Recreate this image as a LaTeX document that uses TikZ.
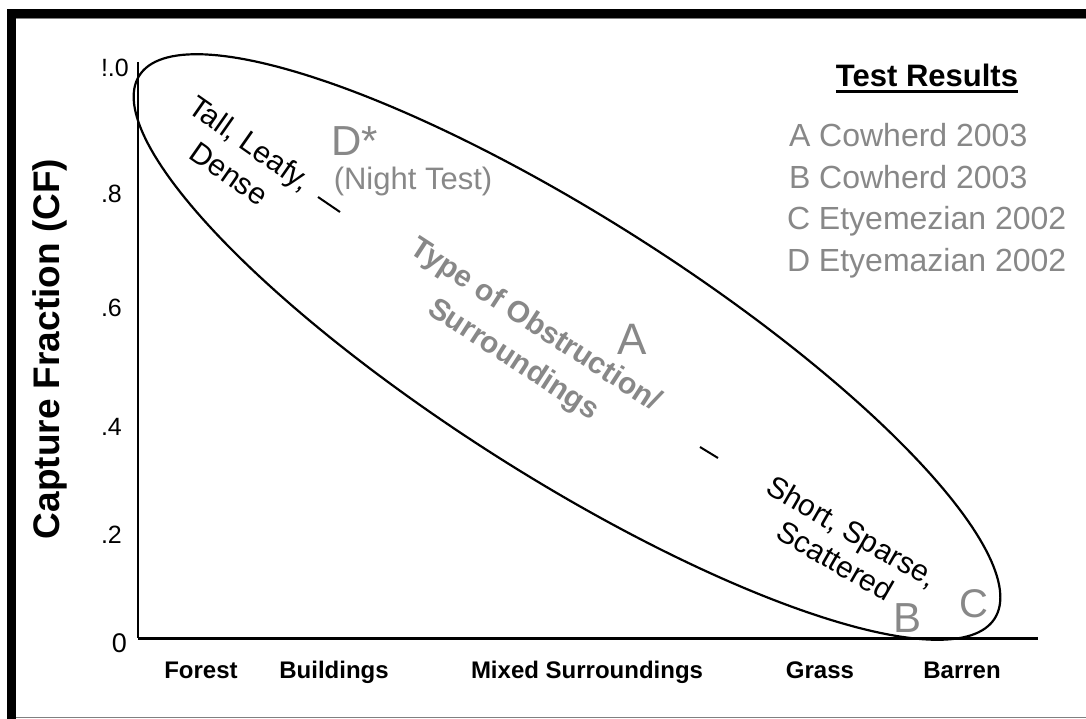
\documentclass[tikz,border=0pt]{standalone}
\usepackage{fontspec}
\setmainfont{Liberation Sans}
\usetikzlibrary{calc}
\definecolor{txtgray}{RGB}{136,136,136}
\definecolor{framegray}{RGB}{128,128,128}
\newcommand{\myfs}[1]{\fontsize{#1}{#1}\selectfont}
\newcommand{\myfsl}[2]{\fontsize{#1}{#2}\selectfont}
\begin{document}
\begin{tikzpicture}[x=1pt,y=-1pt,
  every node/.style={inner sep=0pt, outer sep=0pt},
  tick/.style={font=\myfs{25}, anchor=west},
  cat/.style={font=\bfseries\myfs{24}, anchor=base},
  legend/.style={font=\myfs{32}, text=txtgray, anchor=base west},
  bigletter/.style={text=txtgray},
  axisline/.style={line width=2.7pt},
  dashmark/.style={line width=2pt},
]
\useasboundingbox (0,0) rectangle (1086,719);
\fill[white] (0,0) rectangle (1086,719);
% frame
\fill[black] (7,9) rectangle (1086,18);
\fill[black] (7,9) rectangle (16,719);
\draw[framegray, line width=0.8pt] (16,18.6) -- (1086,18.6);
\draw[framegray, line width=1.4pt] (16,717.6) -- (1086,717.6);

% axes
\coordinate (ytop) at (138,62);
\coordinate (origin) at (138,638);
\coordinate (xend) at (1038,638);
\draw[axisline] (ytop) -- (origin);
\draw[line width=3pt] (origin) -- (xend);

% tick labels
\node[tick] (t10) at (101,68) {!.0};
\node[tick] (t8) at (101,194) {.8};
\node[tick] (t6) at (101,308) {.6};
\node[tick] (t4) at (101,427) {.4};
\node[tick] (t2) at (101,535) {.2};
\node[font=\myfs{27}] (t0) at (119.5,643) {0};

% y label
\node[font=\bfseries\myfs{37}, rotate=90] (ylab) at (50,349) {Capture Fraction (CF)};

% categories
\node[cat] (forest) at (201,678) {Forest};
\node[cat] (buildings) at (334,678) {Buildings};
\node[cat] (mixed) at (587,678) {Mixed Surroundings};
\node[cat] (grass) at (820,678) {Grass};
\node[cat] (barren) at (962,678) {Barren};

% ellipse
\draw[line width=2.2pt] plot[domain=0:360, samples=241]
  ({567 + 506.6*cos(\x)*cos(32.4) - 130*sin(\x)*sin(32.4)},
   {347 + 506.6*cos(\x)*sin(32.4) + 130*sin(\x)*cos(32.4)}) -- cycle;

% diagonal texts
\node[font=\myfsl{30}{37}, align=center, rotate=-35] (tall) at (240,158) {Tall, Leafy,\\Dense};
\node[font=\bfseries\myfsl{30}{41}, text=txtgray, align=center, rotate=-33] (type) at (524,343) {Type of Obstruction/\\Surroundings};
\node[font=\myfsl{30}{34}, align=center, rotate=-30] (short) at (844,546) {Short, Sparse,\\Scattered};

% dash marks
\coordinate (d1a) at (318,197);
\coordinate (d1b) at (340,212);
\coordinate (d2a) at (700,447);
\coordinate (d2b) at (718,458);
\draw[dashmark] (d1a) -- (d1b);
\draw[dashmark] (d2a) -- (d2b);

% gray letters
\node[bigletter, font=\myfs{42}] (dstar) at (355,141) {D*};
\node[font=\myfs{31}, text=txtgray] (night) at (413,181) {(Night Test)};
\node[bigletter, font=\myfs{44}] (la) at (632,339) {A};
\node[bigletter, font=\myfs{42}] (lb) at (907,618) {B};
\node[bigletter, font=\myfs{40}] (lc) at (974,603.5) {C};

% legend
\node[font=\bfseries\myfs{31}, anchor=base] (tr) at (927,87) {Test Results};
\draw[line width=3pt] ($(tr.base west)+(0,5)$) -- ($(tr.base east)+(0,5)$);
\node[legend] (lega) at (789,147) {A Cowherd 2003};
\node[legend] (legb) at (789,189) {B Cowherd 2003};
\node[legend] (legc) at (787,230) {C Etyemezian 2002};
\node[legend] (legd) at (787,272) {D Etyemazian 2002};
\end{tikzpicture}
\end{document}
